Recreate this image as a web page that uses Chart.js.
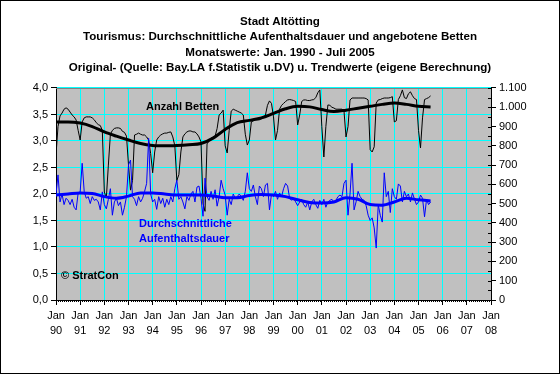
<!DOCTYPE html>
<html>
<head>
<meta charset="utf-8">
<script src="https://cdn.jsdelivr.net/npm/chart.js@4.4.1/dist/chart.umd.min.js"></script>
<style>
    html, body { margin: 0; padding: 0; background: #fff; }
    #c { display: block; }
</style>
</head>
<body>
<canvas id="c" width="560" height="374"></canvas>
<script>
// ==================== DATA ====================
// Monatswerte Jan. 1990 - Juli 2005 (x = Monate seit Jan. 1990)
const titleLines = [
    'Stadt Altötting',
    'Tourismus: Durchschnittliche Aufenthaltsdauer und angebotene Betten',
    'Monatswerte: Jan. 1990 - Juli 2005',
    'Original- (Quelle: Bay.LA f.Statistik u.DV) u. Trendwerte (eigene Berechnung)'
];
const yearLabels = ['90', '91', '92', '93', '94', '95', '96', '97', '98', '99', '00', '01', '02', '03', '04', '05', '06', '07', '08'];

// Anzahl Betten (rechte Achse)
const betten = [
    753, 900, 955, 970, 990, 997, 990, 975, 960, 950, 934, 880,          // 1990
    830, 924, 945, 950, 950, 950, 945, 935, 920, 910, 905, 880,          // 1991
    560, 530, 700, 860, 880, 890, 893, 893, 890, 875, 870, 850,          // 1992
    700, 570, 620, 856, 860, 866, 860, 856, 856, 846, 830, 760,          // 1993
    660, 768, 830, 846, 856, 862, 866, 866, 870, 872, 846, 800,          // 1994
    620, 650, 768, 846, 862, 872, 877, 877, 872, 872, 862, 846,          // 1995
    820, 500, 460, 810, 825, 840, 845, 850, 890, 960, 970, 985,          // 1996
    800, 763, 880, 980, 990, 985, 980, 975, 970, 960, 860, 804,          // 1997
    830, 924, 930, 935, 935, 935, 940, 945, 960, 1010, 1033, 1020,       // 1998
    950, 830, 880, 990, 1010, 1020, 1030, 1038, 1040, 1038, 1035, 1030,  // 1999
    908, 960, 1030, 1038, 1038, 1035, 1035, 1038, 1040, 1050, 1075, 1090, // 2000
    900, 742, 900, 1012, 1010, 1000, 996, 990, 990, 990, 990, 980,       // 2001
    846, 900, 1038, 1048, 1048, 1048, 1048, 1048, 1048, 1048, 1045, 1038, // 2002
    780, 768, 795, 1022, 1038, 1040, 1045, 1048, 1048, 1048, 1050, 1055, // 2003
    924, 930, 1040, 1060, 1090, 1050, 1045, 1070, 1080, 1060, 1045, 1040, // 2004
    880, 789, 945, 1040, 1045, 1050, 1059                                 // 2005
];

// Durchschnittliche Aufenthaltsdauer (linke Achse, Tage)
const dauer = [
    2.00, 2.36, 1.85, 2.00, 1.80, 1.92, 1.88, 1.80, 1.90, 1.75, 1.70, 2.02, // 1990
    2.04, 2.58, 2.05, 1.92, 1.95, 1.82, 1.95, 1.88, 1.90, 1.85, 1.70, 2.04, // 1991
    1.80, 1.72, 1.90, 2.10, 1.60, 1.85, 1.92, 1.78, 1.85, 1.60, 1.75, 1.95, // 1992
    2.55, 2.64, 1.95, 1.90, 1.78, 1.95, 1.85, 1.92, 2.05, 2.20, 3.05, 2.00, // 1993
    1.85, 1.90, 1.71, 1.95, 1.82, 1.92, 1.75, 1.90, 1.80, 1.95, 1.85, 2.10, // 1994
    2.26, 1.90, 1.95, 1.85, 1.72, 1.95, 1.88, 2.00, 2.05, 1.85, 2.13, 2.15, // 1995
    1.92, 1.58, 2.30, 1.95, 1.88, 2.05, 1.90, 2.08, 1.77, 1.95, 2.26, 2.10, // 1996
    1.98, 1.60, 1.90, 1.80, 2.00, 1.92, 1.95, 2.00, 1.95, 1.88, 2.05, 2.40, // 1997
    2.10, 2.05, 2.17, 1.95, 1.80, 2.15, 2.10, 1.95, 2.17, 2.20, 1.70, 2.00, // 1998
    1.95, 2.05, 1.90, 2.02, 1.95, 2.10, 2.20, 2.15, 1.92, 1.88, 1.92, 1.85, // 1999
    1.78, 1.85, 1.90, 1.80, 1.75, 1.85, 1.70, 1.85, 1.90, 1.80, 1.73, 1.88, // 2000
    1.80, 1.90, 1.75, 1.85, 1.88, 1.90, 1.85, 1.88, 1.95, 1.98, 1.95, 2.20, // 2001
    2.26, 1.60, 2.00, 2.58, 1.70, 1.85, 2.05, 1.95, 1.90, 1.88, 1.78, 1.60, // 2002
    1.50, 1.55, 1.36, 0.98, 1.80, 1.60, 1.47, 2.40, 1.95, 2.05, 1.65, 2.10, // 2003
    1.95, 1.90, 2.19, 2.15, 1.85, 2.05, 1.95, 2.00, 1.85, 2.02, 1.90, 1.80, // 2004
    1.85, 1.98, 1.92, 1.57, 1.90, 1.80, 1.85                                // 2005
];

const trendMonths = [0, 6, 12, 18, 24, 30, 36, 42, 48, 54, 60, 66, 72, 78, 84, 90,
    96, 102, 108, 114, 120, 126, 132, 138, 144, 150, 156, 162, 168, 174, 180, 186];
const bettenTrend = [924, 924, 918, 900, 872, 850, 830, 812, 802, 800, 802, 806, 812, 840, 885, 920,
    932, 945, 968, 992, 1005, 1002, 988, 978, 985, 995, 1005, 1015, 1022, 1015, 1005, 1002];
const dauerTrend = [1.98, 2.00, 2.02, 2.01, 1.95, 1.92, 1.96, 2.02, 2.02, 2.00, 1.98, 1.98, 1.98, 1.96, 1.93, 1.93,
    1.97, 1.99, 1.98, 1.95, 1.89, 1.84, 1.83, 1.85, 1.93, 1.90, 1.80, 1.79, 1.85, 1.92, 1.89, 1.87];

// ==================== HELPERS ====================
const FONT = "'Liberation Sans', Arial, sans-serif";
const toPoints = arr => arr.map((v, i) => ({ x: i, y: v }));
const toTrend = arr => arr.map((v, i) => ({ x: trendMonths[i], y: v }));

// Plot background, border, minor ticks and the labels inside the plot
const decoPlugin = {
    id: 'deco',
    beforeDraw(chart) {
        const { ctx, chartArea: a } = chart;
        ctx.save();
        ctx.fillStyle = '#C0C0C0';
        ctx.fillRect(a.left, a.top, a.right - a.left, a.bottom - a.top);
        ctx.restore();
    },
    afterDraw(chart) {
        const { ctx, chartArea: a, scales } = chart;
        ctx.save();
        // top border of plot
        ctx.strokeStyle = '#808080';
        ctx.lineWidth = 1;
        ctx.beginPath();
        ctx.moveTo(a.left, a.top + 0.5);
        ctx.lineTo(a.right, a.top + 0.5);
        ctx.stroke();
        // minor ticks: months on x, 50er on right axis
        ctx.strokeStyle = '#000';
        ctx.beginPath();
        for (let m = 0; m <= 216; m++) {
            if (m % 12 === 0) continue;
            const x = Math.round(scales.x.getPixelForValue(m)) + 0.5;
            ctx.moveTo(x, a.bottom);
            ctx.lineTo(x, a.bottom + 2);
        }
        for (let v = 0; v <= 1100; v += 50) {
            const y = Math.round(scales.y2.getPixelForValue(v)) + 0.5;
            ctx.moveTo(a.right - 3, y);
            ctx.lineTo(a.right, y);
        }
        ctx.stroke();
        // texts inside the plot
        ctx.font = 'bold 11px ' + FONT;
        ctx.textBaseline = 'middle';
        ctx.fillStyle = '#000';
        ctx.fillText('Anzahl Betten', 146, 107);
        ctx.fillText('© StratCon', 61, 276);
        ctx.fillStyle = '#0000FF';
        ctx.fillText('Durchschnittliche', 139, 224);
        ctx.fillText('Aufenthaltsdauer', 139, 239);
        // outer frame
        ctx.strokeStyle = '#000';
        ctx.strokeRect(0.5, 0.5, chart.width - 1, chart.height - 1);
        ctx.restore();
    }
};

// ==================== CHART ====================
new Chart(document.getElementById('c'), {
    type: 'line',
    data: {
        datasets: [
            { label: 'Trend Aufenthaltsdauer', data: toTrend(dauerTrend), yAxisID: 'y', borderColor: '#0000FF', borderWidth: 3, cubicInterpolationMode: 'monotone' },
            { label: 'Aufenthaltsdauer', data: toPoints(dauer), yAxisID: 'y', borderColor: '#0000FF', borderWidth: 1 },
            { label: 'Trend Betten', data: toTrend(bettenTrend), yAxisID: 'y2', borderColor: '#000', borderWidth: 3, cubicInterpolationMode: 'monotone' },
            { label: 'Anzahl Betten', data: toPoints(betten), yAxisID: 'y2', borderColor: '#000', borderWidth: 1 }
        ]
    },
    options: {
        responsive: false,
        animation: false,
        devicePixelRatio: 1,
        layout: { padding: 0 },
        elements: { point: { radius: 0 }, line: { tension: 0 } },
        plugins: {
            legend: { display: false },
            tooltip: { enabled: false },
            title: {
                display: true,
                text: titleLines,
                color: '#000',
                font: { family: FONT, size: 11.6, weight: 'bold', lineHeight: 1.336 },
                padding: { top: 14, bottom: 12 }
            }
        },
        scales: {
            x: {
                type: 'linear', min: 0, max: 216,
                afterFit: s => { s.height = 74; },
                grid: { color: '#00FFFF', tickColor: '#000', tickLength: 5 },
                border: { color: '#000' },
                ticks: {
                    stepSize: 12, autoSkip: false, maxRotation: 0, padding: 4,
                    color: '#000', font: { family: FONT, size: 11, lineHeight: 1.32 },
                    callback: v => ['Jan', yearLabels[v / 12]]
                }
            },
            y: {
                position: 'left', min: 0, max: 4,
                afterFit: s => { s.width = 56; },
                grid: { color: '#00FFFF', tickColor: '#000', tickLength: 5 },
                border: { color: '#000' },
                ticks: {
                    stepSize: 0.5, padding: 3, color: '#000', font: { family: FONT, size: 11 },
                    callback: v => v.toFixed(1).replace('.', ',')
                }
            },
            y2: {
                position: 'right', min: 0, max: 1100,
                afterFit: s => { s.width = 69; },
                grid: { drawOnChartArea: false, tickColor: '#000', tickLength: 5 },
                border: { color: '#000' },
                ticks: {
                    stepSize: 100, padding: 3, color: '#000', font: { family: FONT, size: 11 },
                    callback: v => v.toLocaleString('de-DE')
                }
            }
        }
    },
    plugins: [decoPlugin]
});
</script>
</body>
</html>
